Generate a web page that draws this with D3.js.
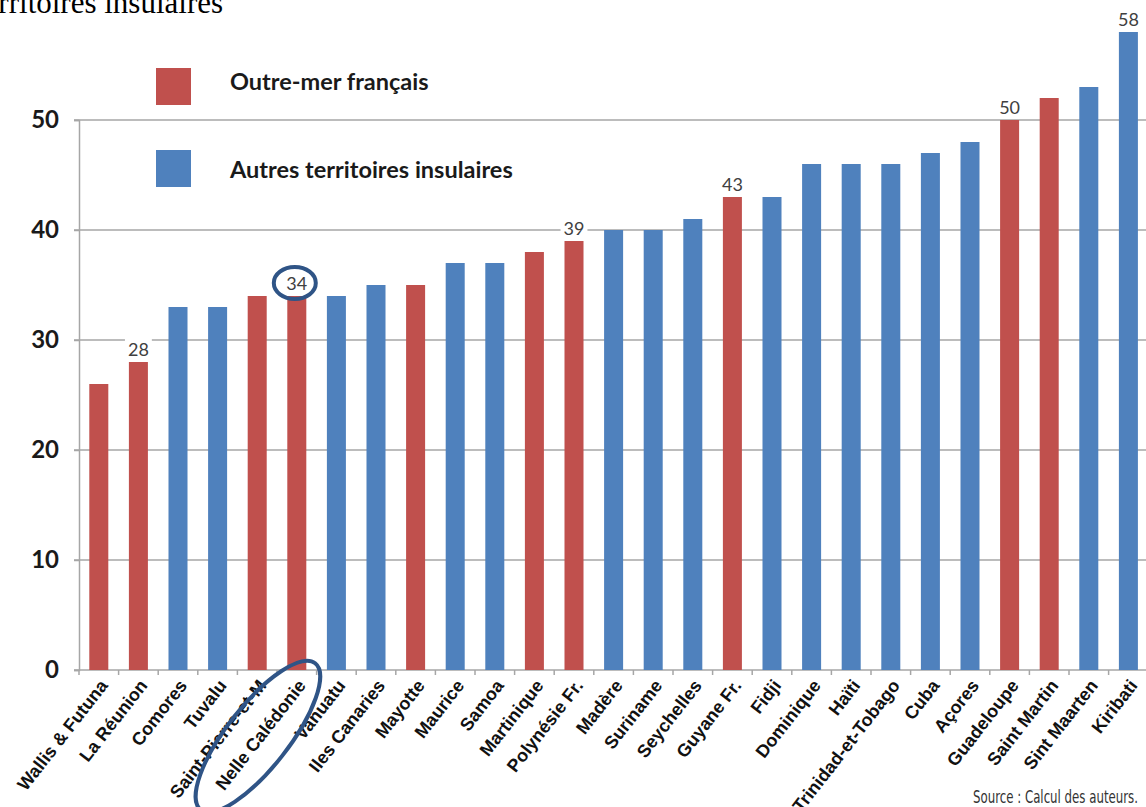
<!DOCTYPE html>
<html>
<head>
<meta charset="utf-8">
<script src="https://cdn.jsdelivr.net/npm/d3@7"></script>
<style>
  body { margin: 0; background: #fff; }
  svg { display: block; }
</style>
</head>
<body>
<div id="chart"></div>
<script>
// data
const territoires = [
  "Wallis & Futuna", "La Réunion", "Comores", "Tuvalu", "Saint-Pierre-et-M",
  "Nelle Calédonie", "Vanuatu", "Iles Canaries", "Mayotte", "Maurice", "Samoa",
  "Martinique", "Polynésie Fr.", "Madère", "Suriname", "Seychelles", "Guyane Fr.",
  "Fidji", "Dominique", "Haïti", "Trinidad-et-Tobago", "Cuba", "Açores",
  "Guadeloupe", "Saint Martin", "Sint Maarten", "Kiribati"
];
const valeurs = [26, 28, 33, 33, 34, 34, 34, 35, 35, 37, 37, 38, 39, 40, 40, 41, 43,
  43, 46, 46, 46, 47, 48, 50, 52, 53, 58];
// 1 = outre-mer français, 0 = autres territoires insulaires
const outremer = [1, 1, 0, 0, 1, 1, 0, 0, 1, 0, 0, 1, 1, 0, 0, 0, 1,
  0, 0, 0, 0, 0, 0, 1, 1, 0, 0];
const etiquetes = ["La Réunion", "Nelle Calédonie", "Polynésie Fr.", "Guyane Fr.", "Guadeloupe", "Kiribati"];
const yTicks = [0, 10, 20, 30, 40, 50];
const legende = ["Outre-mer français", "Autres territoires insulaires"];
const entoure = "Nelle Calédonie";

const W = 1146, H = 807;
const margin = { top: 0, right: 0, bottom: 137, left: 79 };

const rouge = "#c0504d", bleu = "#4f81bd", gris = "#a6a6a6", marine = "#2f5486";

const data = territoires.map((t, i) => ({ nom: t, val: valeurs[i], fr: outremer[i] }));

const svg = d3.select("#chart").append("svg")
  .attr("width", W).attr("height", H);

const x = d3.scaleBand()
  .domain(territoires)
  .range([margin.left, margin.left + 27 * 39.6])
  .paddingInner(0.52).paddingOuter(0.26);

const y = d3.scaleLinear()
  .domain([0, 50])
  .range([H - margin.bottom, 120]);

// cropped heading at the very top
svg.append("text")
  .attr("x", -24).attr("y", 13)
  .style("font-family", "'Liberation Serif', 'Times New Roman', serif")
  .style("font-size", "31px")
  .style("fill", "#000")
  .text("territoires insulaires");

// gridlines
svg.append("g")
  .selectAll("line")
  .data(yTicks.filter(d => d > 0))
  .enter().append("line")
  .attr("x1", margin.left - 5).attr("x2", W)
  .attr("y1", d => y(d)).attr("y2", d => y(d))
  .style("stroke", gris).style("stroke-width", 1.5);

// y axis
const yAxis = svg.append("g")
  .attr("transform", "translate(" + margin.left + ",0)")
  .call(d3.axisLeft(y).tickValues(yTicks).tickSize(5).tickPadding(15));
yAxis.select(".domain").style("stroke", gris).style("stroke-width", 1.5);
yAxis.selectAll(".tick line").style("stroke", gris).style("stroke-width", 1.5);
yAxis.selectAll("text")
  .style("font-family", "Lato, sans-serif")
  .style("font-weight", "bold")
  .style("font-size", "24px")
  .style("fill", "#1a1a1a");

// x axis line + ticks at category boundaries
const y0 = y(0);
svg.append("line")
  .attr("x1", margin.left - 5).attr("x2", W)
  .attr("y1", y0).attr("y2", y0)
  .style("stroke", gris).style("stroke-width", 1.5);
svg.append("g")
  .selectAll("line")
  .data(territoires)
  .enter().append("line")
  .attr("x1", d => x(d) - x.step() * x.paddingInner() / 2)
  .attr("x2", d => x(d) - x.step() * x.paddingInner() / 2)
  .attr("y1", y0).attr("y2", y0 + 5)
  .style("stroke", gris).style("stroke-width", 1.5);

// bars
svg.append("g")
  .selectAll("rect")
  .data(data)
  .enter().append("rect")
  .attr("x", d => x(d.nom))
  .attr("width", x.bandwidth())
  .attr("y", d => y(d.val))
  .attr("height", d => y0 - y(d.val))
  .style("fill", d => d.fr ? rouge : bleu);

// value labels (white box behind so the gridline breaks)
const lab = svg.append("g")
  .selectAll("g")
  .data(data.filter(d => etiquetes.includes(d.nom)))
  .enter().append("g");
lab.append("text")
  .attr("x", d => x(d.nom) + x.bandwidth() / 2)
  .attr("y", d => y(d.val) - 6)
  .attr("text-anchor", "middle")
  .style("font-family", "Lato, sans-serif")
  .style("font-size", "18px")
  .style("fill", "#404040")
  .text(d => d.val);
lab.each(function() {
  const g = d3.select(this);
  const b = g.select("text").node().getBBox();
  g.insert("rect", "text")
    .attr("x", b.x - 3).attr("y", b.y)
    .attr("width", b.width + 6).attr("height", b.height)
    .style("fill", "#fff");
});

// category labels, rotated
const angle = -52;
svg.append("g")
  .selectAll("text")
  .data(territoires)
  .enter().append("text")
  .attr("transform", d => "translate(" + (x(d) + x.bandwidth() / 2 + 5) + "," + (y0 + 12) + ") rotate(" + angle + ")")
  .attr("text-anchor", "end")
  .attr("dy", "0.35em")
  .style("font-family", "'Liberation Sans', Arial, sans-serif")
  .style("font-weight", "bold")
  .style("font-size", "18px")
  .style("fill", "#111")
  .text(d => d);

// legend
const leg = svg.append("g")
  .selectAll("g")
  .data(legende)
  .enter().append("g")
  .attr("transform", (d, i) => "translate(156," + (68 + i * 82) + ")");
leg.append("rect")
  .attr("width", 35).attr("height", 37)
  .style("fill", (d, i) => i === 0 ? rouge : bleu);
leg.append("text")
  .attr("x", 74).attr("y", (d, i) => i === 0 ? 22 : 28)
  .style("font-family", "Lato, sans-serif")
  .style("font-weight", "bold")
  .style("font-size", "23.5px")
  .style("fill", "#1a1a1a")
  .text(d => d);

// annotations: circle round the 34 and the Nelle Calédonie label
const d34 = data.find(d => d.nom === entoure);
svg.append("ellipse")
  .attr("cx", x(entoure) + x.bandwidth() / 2 - 2)
  .attr("cy", y(d34.val) - 13)
  .attr("rx", 21).attr("ry", 16)
  .style("fill", "none").style("stroke", marine).style("stroke-width", 4);
svg.append("ellipse")
  .attr("transform", "translate(" + (x(entoure) + x.bandwidth() / 2 + 5) + "," + (y0 + 12) + ") rotate(" + angle + ")")
  .attr("cx", -70).attr("cy", -1)
  .attr("rx", 93).attr("ry", 31)
  .style("fill", "none").style("stroke", marine).style("stroke-width", 4);

// source
svg.append("text")
  .attr("x", 1138).attr("y", 803)
  .attr("text-anchor", "end")
  .attr("textLength", 165).attr("lengthAdjust", "spacingAndGlyphs")
  .style("font-family", "'DejaVu Sans Condensed', 'DejaVu Sans', sans-serif")
  .style("font-stretch", "condensed")
  .style("font-size", "18px")
  .style("fill", "#333")
  .text("Source : Calcul des auteurs.");
</script>
</body>
</html>
